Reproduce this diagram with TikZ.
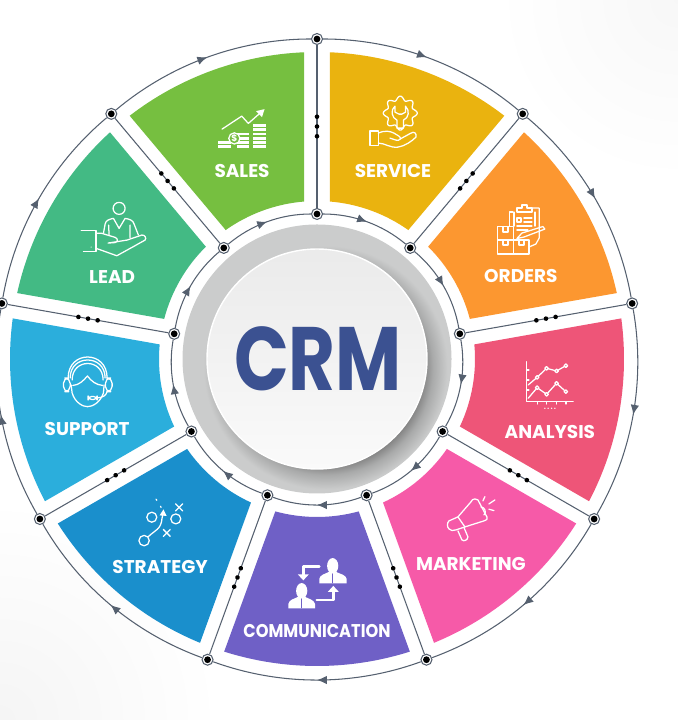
\documentclass[tikz,border=0pt]{standalone}
\usepackage{xcolor}
\usepackage{fontspec}
\setmainfont{Poppins}
\usepackage{tikz}
\usetikzlibrary{arrows.meta}
\usetikzlibrary{calc}
\usetikzlibrary{decorations.markings}

\definecolor{salesgreen}{HTML}{76BF40}
\definecolor{serviceyellow}{HTML}{EAB30F}
\definecolor{ordersorange}{HTML}{FC9730}
\definecolor{analysisrose}{HTML}{EE5578}
\definecolor{marketingpink}{HTML}{F65AA8}
\definecolor{commpurple}{HTML}{6F60C6}
\definecolor{strategyblue}{HTML}{1A8FCC}
\definecolor{supportcyan}{HTML}{2BAEDC}
\definecolor{leadgreen}{HTML}{43BA84}
\definecolor{crmblue}{HTML}{3B5191}
\definecolor{ringline}{HTML}{55606F}
\definecolor{ringgray}{HTML}{CBCCCC}
\definecolor{shadowgray}{HTML}{828282}
\definecolor{shadowmid}{HTML}{A9AAAA}

\pgfdeclareradialshading{discshadow}{\pgfpointorigin}{color(0bp)=(shadowgray); color(20bp)=(shadowgray); color(22bp)=(shadowmid); color(25bp)=(ringgray); color(50bp)=(ringgray)}

\newcommand{\labelfont}{\fontsize{5.25}{6}\selectfont\bfseries}
\newcommand{\wheelsector}[2]{\fill[#2] (#1+17.6:3.07) arc[start angle=#1+17.6,end angle=#1-17.6,radius=3.07] -- (#1-15.3:1.58) arc[start angle=#1-15.3,end angle=#1+15.3,radius=1.58] -- cycle;}

\tikzset{
	ringnode/.style={circle,draw=ringline,line width=.3pt,fill=white,minimum size=.11cm,inner sep=0pt,path picture={\fill[black] (path picture bounding box.center) circle (.034);}},
	ringarc/.style={draw=ringline,line width=.3pt,bend left=20,looseness=.88,postaction={decorate},decoration={markings,mark=at position .5 with {\arrow[ringline]{Latex[length=2.8pt,width=2.4pt]}}}},
	spoke/.style={draw=ringline,line width=.3pt,postaction={decorate},decoration={markings,mark=at position .44 with {\fill[black] (0,0) circle (.023);},mark=at position .5 with {\fill[black] (0,0) circle (.023);},mark=at position .56 with {\fill[black] (0,0) circle (.023);}}},
	seclabel/.style={font=\labelfont,text=white,inner sep=0pt},
	iconline/.style={color=white,line width=.36pt,line join=round,line cap=round}
}

\begin{document}
\begin{tikzpicture}
	\useasboundingbox (-3.17,3.59) rectangle (3.60,-3.61);

	% faint paper tone in two corners
	\shade[inner color=black!4,outer color=white] (-3.17,-3.61) circle (2.2);
	\shade[inner color=black!3,outer color=white] (3.60,3.59) circle (1.8);

	% coloured sectors
	\wheelsector{110}{salesgreen}
	\wheelsector{70}{serviceyellow}
	\wheelsector{30}{ordersorange}
	\wheelsector{-10}{analysisrose}
	\wheelsector{-50}{marketingpink}
	\wheelsector{-90}{commpurple}
	\wheelsector{-130}{strategyblue}
	\wheelsector{-170}{supportcyan}
	\wheelsector{150}{leadgreen}

	% centre disc
	\fill[ringgray] (0,0) circle (1.345);
	\begin{scope}
		\clip (0,0) circle (1.345);
		\shade[shading=discshadow] (.085,-.085) circle (1.22);
	\end{scope}
	\shade[top color=black!8,bottom color=black!2,draw=white,line width=.4pt] (0,0) circle (1.10);
	\node[inner sep=0pt,text=crmblue,xscale=.8,font=\fontsize{25.6}{30}\selectfont\bfseries] (crm) at (.01,0) {CRM};

	% junctions
	\begin{scope}[every node/.style={ringnode}]
		\node (O1) at (90:3.2) {};
		\node (O2) at (50:3.2) {};
		\node (O3) at (10:3.2) {};
		\node (O4) at (-30:3.2) {};
		\node (O5) at (-70:3.2) {};
		\node (O6) at (-110:3.2) {};
		\node (O7) at (-150:3.2) {};
		\node (O8) at (170:3.2) {};
		\node (O9) at (130:3.2) {};
		\node (I1) at (90:1.45) {};
		\node (I2) at (50:1.45) {};
		\node (I3) at (10:1.45) {};
		\node (I4) at (-30:1.45) {};
		\node (I5) at (-70:1.45) {};
		\node (I6) at (-110:1.45) {};
		\node (I7) at (-150:1.45) {};
		\node (I8) at (170:1.45) {};
		\node (I9) at (130:1.45) {};
	\end{scope}

	% outer and inner rings
	\path (O1) edge[ringarc] (O2);
	\path (O2) edge[ringarc] (O3);
	\path (O3) edge[ringarc] (O4);
	\path (O4) edge[ringarc] (O5);
	\path (O5) edge[ringarc] (O6);
	\path (O6) edge[ringarc] (O7);
	\path (O7) edge[ringarc] (O8);
	\path (O8) edge[ringarc] (O9);
	\path (O9) edge[ringarc] (O1);
	\path (I1) edge[ringarc] (I2);
	\path (I2) edge[ringarc] (I3);
	\path (I3) edge[ringarc] (I4);
	\path (I4) edge[ringarc] (I5);
	\path (I5) edge[ringarc] (I6);
	\path (I6) edge[ringarc] (I7);
	\path (I7) edge[ringarc] (I8);
	\path (I8) edge[ringarc] (I9);
	\path (I9) edge[ringarc] (I1);

	% spokes
	\path (I1) edge[spoke] (O1);
	\path (I2) edge[spoke] (O2);
	\path (I3) edge[spoke] (O3);
	\path (I4) edge[spoke] (O4);
	\path (I5) edge[spoke] (O5);
	\path (I6) edge[spoke] (O6);
	\path (I7) edge[spoke] (O7);
	\path (I8) edge[spoke] (O8);
	\path (I9) edge[spoke] (O9);

	% labels and icons, in pixels of the sheet
	\begin{scope}[x=.01cm,y=-.01cm,shift={(-317,-359)},iconline]
		\node[seclabel] (sales) at (242,171) {SALES};
		\node[seclabel] (service) at (393,171) {SERVICE};
		\node[seclabel] (orders) at (521,276) {ORDERS};
		\node[seclabel] (analysis) at (550,432) {ANALYSIS};
		\node[seclabel] (marketing) at (471,564) {MARKETING};
		\node[seclabel,xscale=.88] (communication) at (317,631) {COMMUNICATION};
		\node[seclabel] (strategy) at (160,567) {STRATEGY};
		\node[seclabel] (support) at (87,429) {SUPPORT};
		\node[seclabel] (lead) at (112,277) {LEAD};

		% sales
		\draw (222,129) -- (241.7,116) -- (248.3,123.3) -- (260,113);
		\fill (264.5,109) -- (256,111) -- (262,117) -- cycle;
		\draw[line width=.8pt,line cap=butt] (253,125.5) -- (266,125.5) (253,129.7) -- (266,129.7) (253,133.9) -- (266,133.9) (253,138.1) -- (266,138.1) (253,142.3) -- (266,142.3) (253,146.5) -- (266,146.5);
		\draw[line width=.8pt,line cap=butt] (237,133.9) -- (249,133.9) (237,138.1) -- (249,138.1) (237,142.3) -- (249,142.3) (237,146.5) -- (249,146.5);
		\draw[line width=.8pt,line cap=butt] (218,142.3) -- (231,142.3) (218,146.5) -- (231,146.5);
		\draw[fill=salesgreen] (234.3,138.3) circle (5.6);
		\node[inner sep=0pt,font=\fontsize{2.6}{3}\selectfont\bfseries] (dollar) at (234.3,138.3) {\$};

		% service
		\draw plot[domain=0:360,samples=121,smooth] ({400.3+(15+2*cos(8*\x))*cos(\x)},{113+(15+2*cos(8*\x))*sin(\x)});
		\draw (395,106) .. controls (390,110) and (392,118) .. (397,120) -- (397,128) -- (403.5,128) -- (403.5,120) .. controls (409,118) and (410,110) .. (405.5,106) -- (405.5,112) -- (402,114) -- (399,114) -- (395,112) -- cycle;
		\draw (370,131) rectangle (378.3,145.7);
		\draw (378.3,133) .. controls (385,130) and (390,131) .. (394,133) -- (399,136) .. controls (402,138) and (400,141) .. (396,140) -- (390,138);
		\draw (378.3,143) .. controls (385,143) and (390,148) .. (398,147) .. controls (405,146) and (412,141) .. (416,137) .. controls (417,133) and (414,131) .. (411,133) -- (400,139);

		% orders
		\draw (513,212) -- (509.3,212) -- (509.3,226) (509.3,212);
		\draw (532,208) -- (539.3,208) -- (539.3,238) (536,244) -- (539.3,238) (529,247) -- (536,244);
		\draw (517,212) -- (517,208) -- (522,208) -- (522,205) -- (527,205) -- (527,208) -- (532,208) -- (532,212) -- cycle;
		\draw (514,212) -- (514,226) (535,212) -- (535,226);
		\draw (517,218) rectangle (521,222) (524,218) -- (532,218) (524,222) -- (532,222) (517,226) -- (532,226) (517,230) -- (528,230);
		\draw (497.3,226.7) rectangle (513.3,240) (497.3,240) rectangle (513.3,254) (513.3,240) rectangle (529,254);
		\draw (503,226.7) -- (503,232) -- (508,232) -- (508,226.7) (503,240) -- (503,245) -- (508,245) -- (508,240) (519,240) -- (519,245) -- (524,245) -- (524,240);
		\draw (517,238.5) -- (522,233) -- (543,226.5) -- (545,229) -- (524,237) -- cycle;

		% analysis
		\draw (526.7,361.7) -- (526.7,401.7) -- (573.3,401.7);
		\draw (526.7,370) -- (529,370) (526.7,380) -- (529,380) (526.7,390) -- (529,390) (537.3,401.7) -- (537.3,404) (546.7,401.7) -- (546.7,404) (556.7,401.7) -- (556.7,404) (566,401.7) -- (566,404);
		\draw (528.3,385) -- (537.3,377.3) -- (546.7,368.3) -- (556.7,371) -- (566,365.7);
		\draw (528.3,398.3) -- (537.3,387.7) -- (546.7,394.3) -- (556.7,383.3) -- (566,391.7);
		\draw[fill=analysisrose] (537.3,377.3) circle (1.8) (546.7,368.3) circle (1.8) (556.7,371) circle (1.8) (566,365.7) circle (1.8) (537.3,387.7) circle (1.8) (546.7,394.3) circle (1.8) (556.7,383.3) circle (1.8) (566,391.7) circle (1.8);
		\fill (545,408.3) circle (.7) (548.3,408.3) circle (.7) (551.7,408.3) circle (.7) (555,408.3) circle (.7);

		% marketing
		\draw (475,499) .. controls (473,499) and (472,500) .. (471,502) -- (458,517) -- (465,527) -- (484,521) .. controls (487,520) and (488,519) .. (487,517) -- (478,500) .. controls (477,499) and (476,499) .. cycle;
		\draw (458,517) -- (449,521) .. controls (447,523) and (447,527) .. (449,529) .. controls (451,531) and (453,531) .. (456,530) -- (465,527);
		\draw (458,531) -- (462,540) .. controls (464,542) and (468,540) .. (468,537) -- (464,527.5);
		\draw (481,507) .. controls (485,507) and (487,513) .. (484,515);
		\draw (483,501) -- (485,496.7) (489,504) -- (495,500) (489,509.3) -- (494,510.7);

		% communication
		\fill (332.7,566) ellipse (5.6 and 7.8);
		\fill (319.3,583.5) -- (346.7,583.5) -- (346.7,579) .. controls (346,575) and (340,574) .. (336,572) -- (329,572) .. controls (325,574) and (320,575) .. (319.3,579) -- cycle;
		\fill (301.7,591) ellipse (5.6 and 7.8);
		\fill (288.3,608.5) -- (315,608.5) -- (315,604) .. controls (314,600) and (309,599) .. (305,597) -- (298,597) .. controls (294,599) and (289,600) .. (288.3,604) -- cycle;
		\draw[commpurple,line width=.3pt] (332.7,574) -- (332.7,583) (301.7,599) -- (301.7,608);
		\draw[line width=.7pt,-{Triangle[length=1.7pt,width=3pt]}] (319.3,566.7) -- (303.3,566.7) -- (303.3,580.5);
		\draw[line width=.7pt,-{Triangle[length=1.7pt,width=3pt]}] (316.7,600) -- (333.3,600) -- (333.3,586);

		% strategy
		\draw (151.7,517.3) circle (5) (175.7,519) circle (5) (144,540.7) circle (5.2);
		\draw (175.5,504) -- (182.5,511) (182.5,504) -- (175.5,511) (163.2,529.5) -- (170.2,536.5) (170.2,529.5) -- (163.2,536.5);
		\draw (148.3,536.7) .. controls (155,530) and (161,530) .. (162,518) -- (163,514);
		\fill (163.4,509.5) -- (159.5,515.5) -- (166.5,516) -- cycle;
		\draw[dotted] (156,499.3) -- (162,509);

		% support
		\draw (68,378) .. controls (68,350) and (107,350) .. (107,378);
		\draw (70,378) .. controls (70,354) and (105,354) .. (105,378);
		\draw (72,380) .. controls (72,358) and (103,358) .. (103,380);
		\draw[rounded corners=1.5] (63.3,378) rectangle (70,391.7) (105.3,378) rectangle (112,391.7);
		\draw (71,385) -- (72,393) .. controls (75,403) and (83,406.7) .. (87.3,406.7) .. controls (92,406.7) and (100,403) .. (103.3,393) -- (104,385);
		\draw (72.7,385.5) .. controls (79,385) and (83,381) .. (87.3,376) .. controls (91,381) and (96,385) .. (102.7,385.5);
		\draw (107,391.7) .. controls (106,396) and (102,397.5) .. (97,398);
		\draw[rounded corners=1] (88,396.5) rectangle (97,399.5);

		% lead
		\draw (119,208.3) circle (6);
		\draw (103.3,233.3) -- (105,224) .. controls (105.5,220) and (110,219) .. (113.3,218.3) -- (119,228.3) -- (125,218.3) .. controls (129,219) and (133,220) .. (134,224) -- (138.3,235);
		\draw (108.5,225) -- (109,235.5) (130,225) -- (130,237.5);
		\draw (81,230.7) -- (96,230.7) -- (96,251.7) -- (83.3,251.7);
		\draw (96,233.3) -- (101.7,233.3) -- (115,237.3) .. controls (118,238.5) and (118,242) .. (115,242.5) -- (108,243) -- (127,240) -- (141.7,235) .. controls (145,234.5) and (146.5,238.5) .. (145,240) -- (133,246.7) -- (116.7,255.7) -- (96,248.3);
		\fill (91,247) circle (.6);
	\end{scope}
\end{tikzpicture}
\end{document}
